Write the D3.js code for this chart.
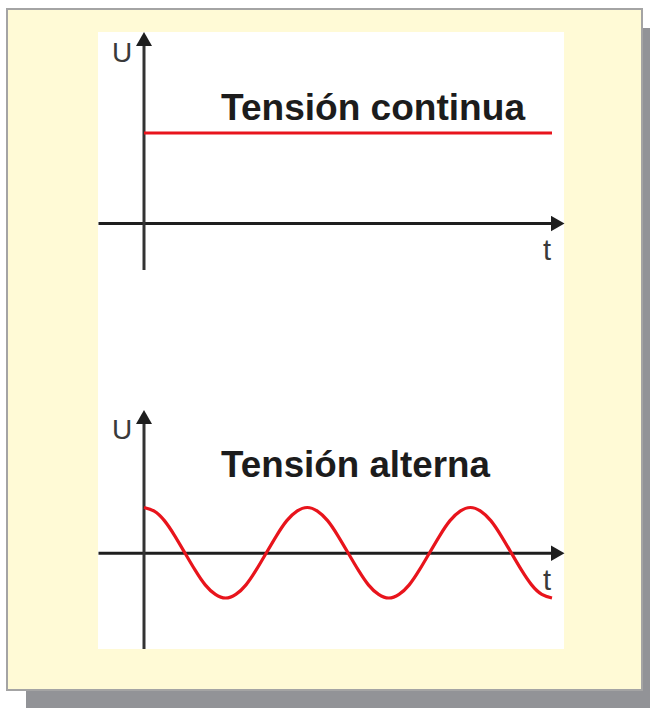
<!DOCTYPE html>
<html>
<head>
<meta charset="utf-8">
<script src="https://cdn.jsdelivr.net/npm/d3@7"></script>
<style>
  html, body { margin: 0; padding: 0; background: #ffffff; }
  svg { display: block; }
</style>
</head>
<body>
<div id="chart"></div>
<script>
// chart data
var titles = ['Tensión continua', 'Tensión alterna'];
var axisLabels = ['U', 't'];
// top chart: constant voltage
var tContinua = [0, 10];
var uContinua = [1, 1];
// bottom chart: alternating voltage, one sample each 1/16 period
var tAlterna = [0, 0.25, 0.5, 0.75, 1, 1.25, 1.5, 1.75, 2, 2.25, 2.5, 2.75, 3, 3.25, 3.5, 3.75,
                4, 4.25, 4.5, 4.75, 5, 5.25, 5.5, 5.75, 6, 6.25, 6.5, 6.75, 7, 7.25, 7.5, 7.75,
                8, 8.25, 8.5, 8.75, 9, 9.25, 9.5, 9.75, 10];
var uAlterna = [1, 0.92, 0.71, 0.38, 0, -0.38, -0.71, -0.92, -1, -0.92, -0.71, -0.38, 0, 0.38, 0.71, 0.92,
                1, 0.92, 0.71, 0.38, 0, -0.38, -0.71, -0.92, -1, -0.92, -0.71, -0.38, 0, 0.38, 0.71, 0.92,
                1, 0.92, 0.71, 0.38, 0, -0.38, -0.71, -0.92, -1];

var svgwidth = 650, svgheight = 708;
var red = '#e8141c', axisColor = '#1e1e1e', labelColor = '#3a3a3a';

var svg = d3.select('#chart')
  .append('svg')
    .attr('width', svgwidth)
    .attr('height', svgheight);

// shadow, frame and white panel
svg.append('rect')
  .attr('x', 26).attr('y', 28)
  .attr('width', 640).attr('height', 690)
  .attr('fill', '#929397');
svg.append('rect')
  .attr('x', 7).attr('y', 9)
  .attr('width', 635).attr('height', 681)
  .attr('fill', '#fffad6')
  .attr('stroke', '#a4a4a4')
  .attr('stroke-width', 2);
svg.append('rect')
  .attr('x', 98).attr('y', 32)
  .attr('width', 466).attr('height', 617)
  .attr('fill', '#ffffff');

// arrowheads
var defs = svg.append('defs');
defs.append('marker')
  .attr('id', 'arrow')
  .attr('markerUnits', 'userSpaceOnUse')
  .attr('viewBox', '0 0 14 16')
  .attr('refX', 1).attr('refY', 8)
  .attr('markerWidth', 14).attr('markerHeight', 16)
  .attr('orient', 'auto')
  .append('path')
    .attr('d', 'M0,0L14,8L0,16Z')
    .attr('fill', axisColor);

function drawChart(cfg) {
  var x = d3.scaleLinear().domain([0, 10]).range([144, 552]);
  var y = d3.scaleLinear().domain(cfg.uDomain).range(cfg.uRange);

  var g = svg.append('g');

  // x axis: a tickless d3 axis running from the panel edge to the arrow
  var xAxisScale = d3.scaleLinear().domain([0, 1]).range([98, 551]);
  var gX = g.append('g')
    .attr('class', 'x axis')
    .attr('transform', 'translate(0,' + y(0) + ')')
    .call(d3.axisBottom(xAxisScale).ticks(0).tickSizeOuter(0));
  gX.select('.domain')
    .attr('stroke', axisColor)
    .attr('stroke-width', 3)
    .attr('marker-end', 'url(#arrow)');

  // y axis
  var yAxisScale = d3.scaleLinear().domain([0, 1]).range([cfg.yBottom, cfg.yTop + 13]);
  var gY = g.append('g')
    .attr('class', 'y axis')
    .attr('transform', 'translate(' + x(0) + ',0)')
    .call(d3.axisLeft(yAxisScale).ticks(0).tickSizeOuter(0));
  gY.select('.domain')
    .attr('stroke', '#333333')
    .attr('stroke-width', 3)
    .attr('d', 'M0,' + cfg.yBottom + 'V' + (cfg.yTop + 13))
    .attr('marker-end', 'url(#arrow)');

  // signal
  var line = d3.line()
    .curve(d3.curveNatural)
    .x(function(d) { return x(d[0]); })
    .y(function(d) { return y(d[1]); });
  g.append('path')
    .datum(d3.zip(cfg.t, cfg.u))
    .attr('fill', 'none')
    .attr('stroke', red)
    .attr('stroke-width', 3.2)
    .attr('d', line);

  // labels
  g.append('text')
    .attr('x', 112)
    .attr('y', cfg.yTop + cfg.uOffset)
    .attr('font-family', 'Liberation Sans, Arial, sans-serif')
    .attr('font-size', 28)
    .attr('fill', labelColor)
    .text(axisLabels[0]);
  g.append('text')
    .attr('x', 543)
    .attr('y', y(0) + 37)
    .attr('font-family', 'Liberation Sans, Arial, sans-serif')
    .attr('font-size', 29)
    .attr('fill', labelColor)
    .text(axisLabels[1]);
  g.append('text')
    .attr('x', 221)
    .attr('y', cfg.titleY)
    .attr('font-family', 'Liberation Sans, Arial, sans-serif')
    .attr('font-weight', 'bold')
    .attr('font-size', 37)
    .attr('textLength', cfg.titleWidth)
    .attr('lengthAdjust', 'spacingAndGlyphs')
    .attr('fill', '#1c1c1c')
    .text(cfg.title);
}

drawChart({
  t: tContinua, u: uContinua,
  uDomain: [0, 1], uRange: [223, 133],
  yTop: 32, yBottom: 270, uOffset: 30,
  titleY: 120, titleWidth: 304, title: titles[0]
});

drawChart({
  t: tAlterna, u: uAlterna,
  uDomain: [-1, 1], uRange: [598, 507.5],
  yTop: 410, yBottom: 649, uOffset: 29,
  titleY: 477, titleWidth: 269, title: titles[1]
});
</script>
</body>
</html>
